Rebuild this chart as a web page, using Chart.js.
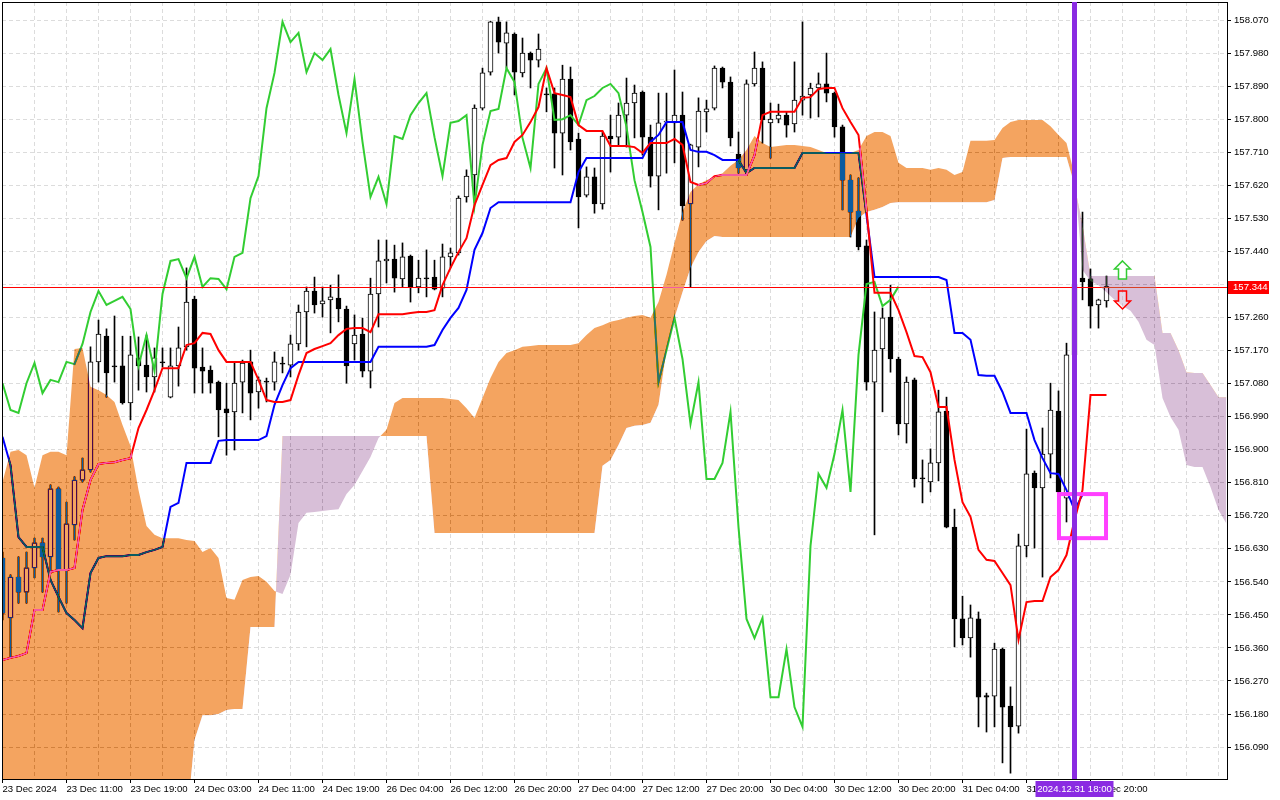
<!DOCTYPE html>
<html>
<head>
<meta charset="utf-8">
<title>USDJPY H1 Ichimoku</title>
<script src="https://cdn.jsdelivr.net/npm/chart.js@4.4.1/dist/chart.umd.min.js"></script>
<style>
  html, body { margin: 0; padding: 0; background: #fff; overflow: hidden; }
  canvas { display: block; }
</style>
</head>
<body>
<canvas id="c" width="1280" height="800"></canvas>
<script>
// candles, one per H1 bar (index 0 = 23 Dec 2024 on the left edge)
const opens = [
  156.605, 156.442, 156.553, 156.512, 156.578, 156.646, 156.608, 156.793, 156.572, 156.695,
  156.817, 156.845, 157.139, 157.209, 157.128, 157.128, 157.027, 157.150, 157.130, 157.098,
  157.139, 157.043, 157.128, 157.180, 157.310, 157.125, 157.117, 157.084, 157.011, 157.003,
  157.084, 157.139, 157.057, 157.087, 157.084, 157.136, 157.130, 157.188, 157.275, 157.332,
  157.297, 157.308, 157.313, 157.283, 157.188, 157.215, 157.114, 157.324, 157.414, 157.419,
  157.365, 157.427, 157.343, 157.368, 157.370, 157.340, 157.425, 157.436, 157.588, 157.648,
  157.830, 157.928, 158.065, 158.007, 158.032, 157.926, 157.980, 157.961, 157.869, 157.869,
  157.762, 157.909, 157.746, 157.593, 157.643, 157.569, 157.754, 157.751, 157.811, 157.844,
  157.874, 157.751, 157.645, 157.792, 157.790, 157.811, 157.569, 157.724, 157.820, 157.830,
  157.939, 157.901, 157.705, 157.662, 157.896, 157.939, 157.790, 157.800, 157.811, 157.787,
  157.852, 157.866, 157.885, 157.896, 157.871, 157.779, 157.634, 157.550, 157.455, 157.084,
  157.174, 157.261, 157.147, 156.970, 157.090, 156.823, 156.812, 156.864, 157.005, 156.689,
  156.439, 156.387, 156.439, 156.230, 156.229, 156.357, 156.202, 156.147, 156.638, 156.836,
  156.796, 156.888, 157.005, 156.768, 157.158, 157.367, 157.365, 157.294, 157.305
];
const highs = [
  156.621, 156.559, 156.608, 156.621, 156.659, 156.659, 156.804, 156.798, 156.757, 156.826,
  156.877, 157.180, 157.253, 157.229, 157.264, 157.209, 157.209, 157.207, 157.212, 157.177,
  157.177, 157.177, 157.234, 157.395, 157.318, 157.177, 157.128, 157.087, 157.081, 157.136,
  157.144, 157.171, 157.098, 157.095, 157.166, 157.152, 157.212, 157.294, 157.343, 157.370,
  157.343, 157.348, 157.376, 157.291, 157.267, 157.258, 157.367, 157.471, 157.471, 157.457,
  157.463, 157.430, 157.416, 157.444, 157.416, 157.460, 157.449, 157.591, 157.662, 157.839,
  157.939, 158.067, 158.078, 158.065, 158.035, 158.021, 157.983, 158.032, 157.885, 157.885,
  157.947, 157.942, 157.762, 157.670, 157.667, 157.765, 157.811, 157.844, 157.912, 157.893,
  157.877, 157.784, 157.871, 157.871, 157.934, 157.874, 157.732, 157.858, 157.852, 157.945,
  157.942, 157.915, 157.765, 157.907, 157.983, 157.956, 157.844, 157.841, 157.820, 157.956,
  158.065, 157.898, 157.926, 157.980, 157.874, 157.784, 157.648, 157.640, 157.471, 157.275,
  157.286, 157.348, 157.152, 157.098, 157.095, 156.872, 156.902, 157.062, 157.043, 156.738,
  156.501, 156.477, 156.458, 156.237, 156.373, 156.360, 156.254, 156.670, 156.956, 156.842,
  156.959, 157.081, 157.060, 157.190, 157.389, 157.547, 157.392, 157.310, 157.373
];
const lows = [
  156.436, 156.333, 156.482, 156.482, 156.551, 156.512, 156.564, 156.458, 156.482, 156.654,
  156.812, 156.839, 157.084, 157.043, 157.084, 157.024, 156.981, 157.062, 157.057, 157.057,
  157.125, 157.041, 157.073, 157.171, 157.054, 157.054, 157.054, 156.935, 156.885, 156.899,
  157.000, 156.981, 157.013, 157.030, 157.062, 157.109, 157.098, 157.171, 157.180, 157.272,
  157.261, 157.218, 157.248, 157.081, 157.144, 157.098, 157.068, 157.234, 157.354, 157.329,
  157.343, 157.302, 157.327, 157.316, 157.335, 157.316, 157.395, 157.430, 157.574, 157.572,
  157.825, 157.920, 157.980, 157.939, 157.866, 157.915, 157.885, 157.942, 157.820, 157.667,
  157.648, 157.716, 157.504, 157.588, 157.544, 157.555, 157.656, 157.730, 157.724, 157.749,
  157.702, 157.615, 157.553, 157.653, 157.681, 157.525, 157.343, 157.670, 157.765, 157.825,
  157.885, 157.727, 157.653, 157.648, 157.890, 157.735, 157.694, 157.790, 157.751, 157.765,
  157.811, 157.803, 157.806, 157.847, 157.751, 157.553, 157.479, 157.444, 157.062, 156.668,
  157.003, 157.111, 156.940, 156.918, 156.798, 156.755, 156.785, 156.815, 156.687, 156.363,
  156.368, 156.335, 156.145, 156.131, 156.145, 156.047, 156.019, 156.128, 156.608, 156.632,
  156.553, 156.823, 156.777, 156.703, 157.139, 157.308, 157.231, 157.231, 157.288
];
const closes = [
  156.455, 156.553, 156.512, 156.578, 156.646, 156.608, 156.793, 156.572, 156.698, 156.817,
  156.845, 157.139, 157.215, 157.109, 157.125, 157.027, 157.158, 157.128, 157.098, 157.150,
  157.136, 157.128, 157.177, 157.302, 157.122, 157.114, 157.081, 157.008, 157.000, 157.081,
  157.136, 157.054, 157.090, 157.084, 157.139, 157.133, 157.188, 157.275, 157.332, 157.294,
  157.305, 157.316, 157.283, 157.128, 157.212, 157.114, 157.324, 157.414, 157.419, 157.367,
  157.425, 157.343, 157.367, 157.365, 157.337, 157.425, 157.436, 157.585, 157.645, 157.830,
  157.926, 158.065, 158.010, 158.035, 157.928, 157.980, 157.961, 157.991, 157.866, 157.762,
  157.909, 157.738, 157.588, 157.643, 157.569, 157.754, 157.746, 157.811, 157.844, 157.871,
  157.751, 157.645, 157.790, 157.795, 157.811, 157.564, 157.730, 157.822, 157.828, 157.939,
  157.901, 157.749, 157.667, 157.896, 157.939, 157.798, 157.800, 157.811, 157.784, 157.852,
  157.863, 157.885, 157.896, 157.871, 157.779, 157.634, 157.547, 157.452, 157.084, 157.171,
  157.259, 157.147, 156.970, 157.084, 156.820, 156.820, 156.864, 157.003, 156.689, 156.439,
  156.387, 156.442, 156.226, 156.226, 156.357, 156.199, 156.145, 156.638, 156.834, 156.796,
  156.888, 157.008, 156.785, 157.158, 157.351, 157.357, 157.291, 157.308, 157.344
];

// Ichimoku lines
const tenkan = [
  156.327, 156.333, 156.338, 156.346, 156.463, 156.463, 156.567, 156.572, 156.572, 156.578,
  156.736, 156.817, 156.861, 156.864, 156.866, 156.872, 156.877, 156.959, 157.008, 157.062,
  157.122, 157.122, 157.122, 157.185, 157.190, 157.218, 157.215, 157.171, 157.139, 157.139,
  157.139, 157.139, 157.090, 157.035, 157.030, 157.030, 157.035, 157.103, 157.163, 157.174,
  157.182, 157.190, 157.212, 157.229, 157.231, 157.231, 157.220, 157.269, 157.269, 157.269,
  157.269, 157.272, 157.275, 157.275, 157.280, 157.348, 157.395, 157.438, 157.476, 157.566,
  157.621, 157.675, 157.689, 157.694, 157.738, 157.757, 157.792, 157.833, 157.939, 157.871,
  157.866, 157.860, 157.784, 157.768, 157.768, 157.768, 157.727, 157.727, 157.727, 157.724,
  157.708, 157.735, 157.735, 157.735, 157.746, 157.730, 157.629, 157.621, 157.626, 157.645,
  157.648, 157.648, 157.648, 157.648, 157.702, 157.811, 157.820, 157.820, 157.820, 157.820,
  157.858, 157.860, 157.882, 157.885, 157.885, 157.830, 157.792, 157.757, 157.553, 157.327,
  157.327, 157.327, 157.280, 157.220, 157.155, 157.152, 157.111, 157.016, 157.016, 156.872,
  156.757, 156.717, 156.627, 156.600, 156.597, 156.564, 156.531, 156.382, 156.485, 156.488,
  156.488, 156.553, 156.572, 156.613, 156.708, 156.790, 157.049, 157.049, 157.049
];
const kijun = [
  156.935, 156.858, 156.662, 156.635, 156.635, 156.635, 156.545, 156.499, 156.455, 156.436,
  156.414, 156.564, 156.605, 156.610, 156.610, 156.610, 156.613, 156.613, 156.621, 156.627,
  156.635, 156.744, 156.755, 156.864, 156.864, 156.864, 156.864, 156.924, 156.926, 156.926,
  156.926, 156.926, 156.926, 156.937, 157.022, 157.076, 157.122, 157.139, 157.139, 157.139,
  157.139, 157.139, 157.139, 157.139, 157.139, 157.139, 157.139, 157.180, 157.180, 157.180,
  157.180, 157.180, 157.180, 157.180, 157.185, 157.226, 157.259, 157.286, 157.335, 157.444,
  157.490, 157.558, 157.574, 157.574, 157.574, 157.574, 157.574, 157.574, 157.574, 157.574,
  157.574, 157.574, 157.656, 157.694, 157.694, 157.694, 157.694, 157.694, 157.694, 157.694,
  157.694, 157.738, 157.757, 157.792, 157.792, 157.792, 157.716, 157.711, 157.711, 157.702,
  157.689, 157.689, 157.689, 157.653, 157.667, 157.667, 157.667, 157.667, 157.667, 157.667,
  157.708, 157.708, 157.708, 157.708, 157.708, 157.708, 157.708, 157.708, 157.539, 157.370,
  157.370, 157.370, 157.370, 157.370, 157.370, 157.370, 157.370, 157.370, 157.362, 157.218,
  157.218, 157.199, 157.103, 157.101, 157.101, 157.057, 157.000, 157.000, 157.000, 156.926,
  156.877, 156.836, 156.834, 156.790, 156.736, 156.777, 156.779, 156.779, 156.779
];
// cloud, already shifted forward: runs 15 bars past the last candle
const spanA = [
  156.812, 156.894, 156.899, 156.885, 156.796, 156.885, 156.894, 156.894, 156.885, 157.174,
  157.177, 157.071, 157.062, 157.049, 157.030, 156.967, 156.910, 156.790, 156.692, 156.668,
  156.659, 156.659, 156.659, 156.654, 156.651, 156.621, 156.632, 156.605, 156.496, 156.491,
  156.545, 156.553, 156.556, 156.540, 156.515, 156.507, 156.559, 156.700, 156.728, 156.730,
  156.733, 156.736, 156.738, 156.779, 156.804, 156.842, 156.880, 156.932, 156.954, 157.027,
  157.041, 157.041, 157.041, 157.041, 157.041, 157.041, 157.038, 157.035, 157.013, 156.986,
  157.041, 157.095, 157.139, 157.163, 157.171, 157.180, 157.182, 157.185, 157.185, 157.185,
  157.185, 157.185, 157.190, 157.212, 157.231, 157.239, 157.248, 157.253, 157.259, 157.264,
  157.267, 157.259, 157.302, 157.376, 157.463, 157.547, 157.602, 157.623, 157.634, 157.643,
  157.653, 157.673, 157.689, 157.716, 157.754, 157.735, 157.724, 157.727, 157.730, 157.730,
  157.727, 157.724, 157.716, 157.708, 157.708, 157.708, 157.708, 157.716, 157.754, 157.765,
  157.765, 157.754, 157.681, 157.667, 157.667, 157.667, 157.662, 157.667, 157.662, 157.648,
  157.656, 157.741, 157.741, 157.741, 157.743, 157.776, 157.792, 157.798, 157.798, 157.798,
  157.798, 157.781, 157.757, 157.735, 157.648, 157.389, 157.359, 157.348, 157.329, 157.308,
  157.291, 157.278, 157.248, 157.199, 157.185, 157.041, 156.989, 156.954, 156.858, 156.853,
  156.853, 156.798, 156.736, 156.698
];
const spanB = [
  155.880, 155.880, 155.880, 155.880, 155.880, 155.880, 155.880, 155.880, 155.880, 155.880,
  155.880, 155.880, 155.880, 155.880, 155.880, 155.880, 155.880, 155.880, 155.880, 155.880,
  155.880, 155.880, 155.880, 155.880, 156.109, 156.177, 156.177, 156.180, 156.191, 156.194,
  156.194, 156.417, 156.417, 156.417, 156.417, 156.937, 156.937, 156.937, 156.937, 156.937,
  156.937, 156.937, 156.937, 156.937, 156.937, 156.937, 156.937, 156.937, 156.937, 156.937,
  156.937, 156.937, 156.937, 156.937, 156.673, 156.673, 156.673, 156.673, 156.673, 156.673,
  156.673, 156.673, 156.673, 156.673, 156.673, 156.673, 156.673, 156.673, 156.673, 156.673,
  156.673, 156.673, 156.673, 156.673, 156.673, 156.856, 156.872, 156.913, 156.959, 156.965,
  156.967, 156.973, 157.022, 157.171, 157.259, 157.329, 157.395, 157.438, 157.468, 157.482,
  157.479, 157.479, 157.479, 157.479, 157.479, 157.479, 157.479, 157.479, 157.479, 157.479,
  157.479, 157.479, 157.479, 157.479, 157.479, 157.479, 157.479, 157.531, 157.547, 157.553,
  157.561, 157.572, 157.574, 157.574, 157.574, 157.574, 157.574, 157.574, 157.574, 157.574,
  157.574, 157.574, 157.574, 157.574, 157.580, 157.694, 157.697, 157.697, 157.697, 157.697,
  157.697, 157.697, 157.697, 157.697, 157.621, 157.512, 157.373, 157.373, 157.373, 157.373,
  157.373, 157.373, 157.373, 157.373, 157.373, 157.218, 157.218, 157.171, 157.111, 157.109,
  157.109, 157.076, 157.043, 157.043
];
const chikouShift = 26;

const priceTicks = [
  156.090, 156.180, 156.270, 156.360, 156.450, 156.540, 156.630, 156.720, 156.810, 156.900,
  156.990, 157.080, 157.170, 157.260, 157.350, 157.440, 157.530, 157.620, 157.710, 157.800,
  157.890, 157.980, 158.070
];
const timeLabels = [
  [0, '23 Dec 2024'], [8, '23 Dec 11:00'], [16, '23 Dec 19:00'], [24, '24 Dec 03:00'],
  [32, '24 Dec 11:00'], [40, '24 Dec 19:00'], [48, '26 Dec 04:00'], [56, '26 Dec 12:00'],
  [64, '26 Dec 20:00'], [72, '27 Dec 04:00'], [80, '27 Dec 12:00'], [88, '27 Dec 20:00'],
  [96, '30 Dec 04:00'], [104, '30 Dec 12:00'], [112, '30 Dec 20:00'], [120, '31 Dec 04:00'],
  [128, '31 Dec 12:00'], [136, '31 Dec 20:00']
];

// chart objects
const lastPrice = 157.344;
const markerIndex = 134;
const markerText = '2024.12.31 18:00';
const boxIndex = [132.06, 137.94];
const boxPrice = [156.659, 156.779];
const signalIndex = 140;
const buyArrowPrice = 157.414;
const sellArrowPrice = 157.283;

const FONT_FAMILY = '"Liberation Sans", Arial, sans-serif';
const FONT_SIZE = 9.6;
const labelMap = new Map(timeLabels);

const pts = arr => arr.map((v, i) => ({ x: i, y: v }));

const wicks = highs.map((h, i) => ({ x: i, y: [lows[i], h] }));
const bodies = opens.map((o, i) => ({ x: i, y: [o, closes[i]] }));
const bodyColors = opens.map((o, i) => (closes[i] >= o ? '#ffffff' : '#000000'));
const chikou = closes.slice(chikouShift).map((c, i) => ({ x: i, y: c }));

const SPAN_B = 5, SPAN_A = 6;

function drawPriceLine(chart) {
	const { ctx, chartArea: a, scales: { y } } = chart;
	const py = Math.round(y.getPixelForValue(lastPrice)) + 0.5;
	ctx.save();
	ctx.globalCompositeOperation = 'source-over';
	ctx.strokeStyle = '#ff0000';
	ctx.lineWidth = 1;
	ctx.setLineDash([]);
	ctx.beginPath();
	ctx.moveTo(a.left, py);
	ctx.lineTo(a.right, py);
	ctx.stroke();
	ctx.restore();
}

const overlay = {
	id: 'overlay',
	beforeDraw(chart) {
		const ctx = chart.ctx;
		ctx.globalCompositeOperation = 'source-over';
		ctx.save();
		ctx.fillStyle = '#ffffff';
		ctx.fillRect(0, 0, chart.width, chart.height);
		ctx.restore();
	},
	afterDatasetDraw(chart, args) {
		// the cloud is painted as a "difference" over everything below it,
		// so candles and lines inside it change colour like in the terminal
		if (args.index === SPAN_B) {
			drawPriceLine(chart);
			chart.ctx.globalCompositeOperation = 'difference';
		}
		if (args.index === SPAN_A) chart.ctx.globalCompositeOperation = 'source-over';
	},
	afterDraw(chart) {
		const { ctx, chartArea: a, scales: { x, y } } = chart;
		ctx.save();
		ctx.globalCompositeOperation = 'source-over';

		// frame
		ctx.strokeStyle = '#000';
		ctx.lineWidth = 1;
		ctx.strokeRect(Math.floor(a.left) + 0.5, Math.floor(a.top) + 0.5,
			Math.round(a.right - a.left), Math.round(a.bottom - a.top));

		// signal arrows
		const ax = x.getPixelForValue(signalIndex);
		let ty = y.getPixelForValue(buyArrowPrice);
		ctx.beginPath();
		ctx.moveTo(ax, ty);
		ctx.lineTo(ax + 8, ty + 8);
		ctx.lineTo(ax + 4, ty + 8);
		ctx.lineTo(ax + 4, ty + 18);
		ctx.lineTo(ax - 4, ty + 18);
		ctx.lineTo(ax - 4, ty + 8);
		ctx.lineTo(ax - 8, ty + 8);
		ctx.closePath();
		ctx.fillStyle = '#ffffff';
		ctx.fill();
		ctx.strokeStyle = '#33cc33';
		ctx.lineWidth = 1.5;
		ctx.stroke();

		ty = y.getPixelForValue(sellArrowPrice);
		ctx.beginPath();
		ctx.moveTo(ax, ty);
		ctx.lineTo(ax + 8, ty - 8);
		ctx.lineTo(ax + 4, ty - 8);
		ctx.lineTo(ax + 4, ty - 18);
		ctx.lineTo(ax - 4, ty - 18);
		ctx.lineTo(ax - 4, ty - 8);
		ctx.lineTo(ax - 8, ty - 8);
		ctx.closePath();
		ctx.fillStyle = 'rgba(255,255,255,0.35)';
		ctx.fill();
		ctx.strokeStyle = '#ff0000';
		ctx.stroke();

		// selection box
		const bx1 = x.getPixelForValue(boxIndex[0]);
		const bx2 = x.getPixelForValue(boxIndex[1]);
		const by1 = y.getPixelForValue(boxPrice[1]);
		const by2 = y.getPixelForValue(boxPrice[0]);
		ctx.strokeStyle = '#ff40ff';
		ctx.lineWidth = 4;
		ctx.strokeRect(bx1, by1, bx2 - bx1, by2 - by1);

		// vertical time marker
		const mx = x.getPixelForValue(markerIndex);
		ctx.fillStyle = '#8a2be2';
		ctx.fillRect(mx - 2.5, a.top, 5, a.bottom - a.top);

		ctx.font = FONT_SIZE + 'px ' + FONT_FAMILY;
		ctx.textBaseline = 'middle';

		// time label of the marker
		ctx.fillStyle = '#8a2be2';
		ctx.fillRect(mx - 39, a.bottom + 2, 78, 16);
		ctx.fillStyle = '#ffffff';
		ctx.textAlign = 'center';
		ctx.fillText(markerText, mx, a.bottom + 10.5);

		// last price label
		const py = Math.round(y.getPixelForValue(lastPrice));
		ctx.fillStyle = '#ff0000';
		ctx.fillRect(a.right + 1, py - 6, 41, 13);
		ctx.fillStyle = '#ffffff';
		ctx.textAlign = 'left';
		ctx.fillText(lastPrice.toFixed(3), a.right + 6, py + 0.5);

		ctx.restore();
	}
};

Chart.defaults.font.family = FONT_FAMILY;
Chart.defaults.font.size = FONT_SIZE;
Chart.defaults.color = '#000';

new Chart(document.getElementById('c'), {
	type: 'bar',
	data: {
		datasets: [
			{
				type: 'bar', label: 'wick', data: wicks,
				backgroundColor: '#000', barThickness: 1, grouped: false,
				clip: 0, order: 6
			},
			{
				type: 'bar', label: 'body', data: bodies,
				backgroundColor: bodyColors, borderColor: '#000', borderWidth: 1,
				borderSkipped: false, barThickness: 5, grouped: false,
				clip: 0, order: 5
			},
			{
				type: 'line', label: 'Chikou Span', data: chikou,
				borderColor: '#32cd32', borderWidth: 2, pointRadius: 0,
				fill: false, tension: 0, order: 4
			},
			{
				type: 'line', label: 'Kijun-sen', data: pts(kijun),
				borderColor: '#0000ff', borderWidth: 2, pointRadius: 0,
				fill: false, tension: 0, order: 3
			},
			{
				type: 'line', label: 'Tenkan-sen', data: pts(tenkan),
				borderColor: '#ff0000', borderWidth: 2, pointRadius: 0,
				fill: false, tension: 0, order: 2
			},
			{
				type: 'line', label: 'Senkou Span B', data: pts(spanB),
				borderColor: 'rgba(0,0,0,0)', borderWidth: 0, pointRadius: 0,
				fill: false, tension: 0, order: 1
			},
			{
				type: 'line', label: 'Senkou Span A', data: pts(spanA),
				borderColor: 'rgba(0,0,0,0)', borderWidth: 0, pointRadius: 0,
				tension: 0, order: 0,
				// difference colours: white turns into sandybrown / thistle
				fill: { target: SPAN_B, above: 'rgb(11,91,159)', below: 'rgb(39,64,39)' }
			}
		]
	},
	options: {
		responsive: false,
		animation: false,
		devicePixelRatio: 1,
		layout: { padding: { left: 2, top: 2, right: 0, bottom: 0 } },
		plugins: {
			legend: { display: false },
			tooltip: { enabled: false }
		},
		scales: {
			x: {
				type: 'linear',
				offset: false,
				min: -0.0625,
				max: 153.0625,
				bounds: 'data',
				afterBuildTicks: scale => {
					const t = [];
					for (let i = 0; i <= 152; i += 4) t.push({ value: i });
					scale.ticks = t;
				},
				afterFit: scale => {
					scale.height = 21;
					scale.paddingLeft = 0;
					scale.paddingRight = 0;
				},
				grid: {
					offset: false,
					color: '#dcdcdc',
					lineWidth: 1,
					drawTicks: true,
					tickLength: 4,
					tickWidth: 1,
					tickBorderDash: [],
					tickColor: ctx => (ctx.tick && labelMap.has(ctx.tick.value) ? '#000' : 'rgba(0,0,0,0)')
				},
				border: { display: false, dash: [4, 3] },
				ticks: {
					autoSkip: false,
					maxRotation: 0,
					minRotation: 0,
					align: 'start',
					padding: 1,
					color: '#000',
					callback: v => labelMap.get(v) || ''
				}
			},
			y: {
				type: 'linear',
				position: 'right',
				min: 156.0031,
				max: 158.1191,
				bounds: 'data',
				afterBuildTicks: scale => {
					scale.ticks = priceTicks.map(v => ({ value: v }));
				},
				afterFit: scale => {
					scale.width = 53;
					scale.paddingTop = 0;
					scale.paddingBottom = 0;
				},
				grid: {
					color: '#dcdcdc',
					lineWidth: 1,
					drawTicks: true,
					tickLength: 4,
					tickWidth: 1,
					tickBorderDash: [],
					tickColor: '#000'
				},
				border: { display: false, dash: [4, 3] },
				ticks: {
					autoSkip: false,
					padding: 3,
					color: '#000',
					callback: v => v.toFixed(3)
				}
			}
		}
	},
	plugins: [overlay]
});
</script>
</body>
</html>
